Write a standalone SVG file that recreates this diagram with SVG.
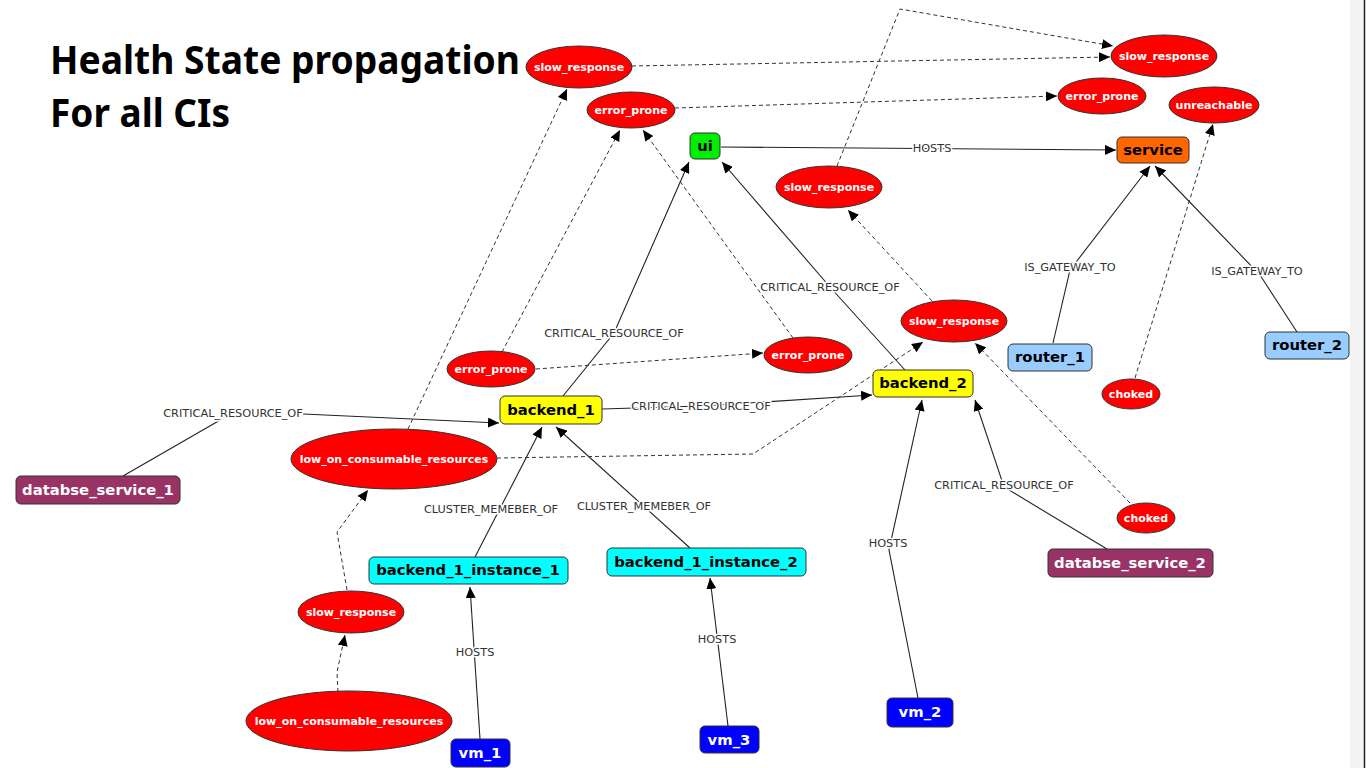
<svg xmlns="http://www.w3.org/2000/svg" width="1366" height="768" viewBox="0 0 1366 768">
<defs>
<marker id="arr" markerUnits="userSpaceOnUse" markerWidth="12" markerHeight="10" refX="11" refY="5" orient="auto">
<path d="M0,0 L11,5 L0,10 Z" fill="#000"/>
</marker>
<style>
.title{font-family:"Noto Sans","Open Sans",sans-serif;font-weight:bold;font-size:39px;fill:#000}
.box{stroke:#333;stroke-width:1}
.ell{fill:#ff0000;stroke:#333;stroke-width:1}
.nt{font-family:"DejaVu Sans",Verdana,sans-serif;font-weight:bold;font-size:14.8px;text-anchor:middle}
.et{font-family:"DejaVu Sans",Verdana,sans-serif;font-weight:bold;font-size:11px;text-anchor:middle;fill:#fff}
.lbl{font-family:"DejaVu Sans",Verdana,sans-serif;font-size:11.3px;text-anchor:middle;fill:#333;stroke:#fff;stroke-width:3;paint-order:stroke;stroke-linejoin:round}
.solid{fill:none;stroke:#222;stroke-width:1.1}
.dash{fill:none;stroke:#333;stroke-width:1;stroke-dasharray:4 3}
</style>
</defs>
<rect width="1366" height="768" fill="#fff"/>
<rect x="1350" y="0" width="14" height="768" fill="#f4f4f4"/>
<line x1="1364.5" y1="0" x2="1364.5" y2="768" stroke="#222" stroke-width="1.5"/>

<g id="title">
<text class="title" x="50" y="74" textLength="470" lengthAdjust="spacingAndGlyphs">Health State propagation</text>
<text class="title" x="50" y="127" textLength="180" lengthAdjust="spacingAndGlyphs">For all CIs</text>
</g>

<g id="connectors">
<path class="solid" d="M721,147 L1116,150" marker-end="url(#arr)"/>
<path class="solid" d="M563,396 L614,333 L689,162" marker-end="url(#arr)"/>
<path class="solid" d="M905,370 L830,287 L722,162" marker-end="url(#arr)"/>
<path class="solid" d="M602,409 L701,406 L872,395" marker-end="url(#arr)"/>
<path class="solid" d="M123,476 L222,419"/>
<path class="solid" d="M303,414 L499,423" marker-end="url(#arr)"/>
<path class="solid" d="M475,557 L542,427" marker-end="url(#arr)"/>
<path class="solid" d="M690,548 L556,427" marker-end="url(#arr)"/>
<path class="solid" d="M480,739 L470,587" marker-end="url(#arr)"/>
<path class="solid" d="M728,726 L710,578" marker-end="url(#arr)"/>
<path class="solid" d="M918,698 L889,550 L922,400" marker-end="url(#arr)"/>
<path class="solid" d="M1107,549 L1004,487 L975,400" marker-end="url(#arr)"/>
<path class="solid" d="M1053,343 L1070,270 L1150,166" marker-end="url(#arr)"/>
<path class="solid" d="M1297,332 L1260,275 L1155,166" marker-end="url(#arr)"/>

<path class="dash" d="M632,66 L1110,57" marker-end="url(#arr)"/>
<path class="dash" d="M675,108 L1057,96" marker-end="url(#arr)"/>
<path class="dash" d="M837,166 L900,9 L1113,46" marker-end="url(#arr)"/>
<path class="dash" d="M932,301 L848,210" marker-end="url(#arr)"/>
<path class="dash" d="M793,338 L643,130" marker-end="url(#arr)"/>
<path class="dash" d="M502,352 L620,130" marker-end="url(#arr)"/>
<path class="dash" d="M536,369 L763,353" marker-end="url(#arr)"/>
<path class="dash" d="M408,429 L567,89" marker-end="url(#arr)"/>
<path class="dash" d="M497,458 L753,454 L923,342" marker-end="url(#arr)"/>
<path class="dash" d="M347,590 L337,532 L368,490" marker-end="url(#arr)"/>
<path class="dash" d="M338,692 L337,672 L345,635" marker-end="url(#arr)"/>
<path class="dash" d="M1130,503 L975,343" marker-end="url(#arr)"/>
<path class="dash" d="M1135,378 L1213,124" marker-end="url(#arr)"/>

<text class="lbl" x="932" y="152">HOSTS</text>
<text class="lbl" x="614" y="337">CRITICAL_RESOURCE_OF</text>
<text class="lbl" x="830" y="291">CRITICAL_RESOURCE_OF</text>
<text class="lbl" x="701" y="410">CRITICAL_RESOURCE_OF</text>
<text class="lbl" x="233" y="417">CRITICAL_RESOURCE_OF</text>
<text class="lbl" x="491" y="513">CLUSTER_MEMEBER_OF</text>
<text class="lbl" x="644" y="510">CLUSTER_MEMEBER_OF</text>
<text class="lbl" x="475" y="656">HOSTS</text>
<text class="lbl" x="717" y="643">HOSTS</text>
<text class="lbl" x="888" y="547">HOSTS</text>
<text class="lbl" x="1004" y="489">CRITICAL_RESOURCE_OF</text>
<text class="lbl" x="1070" y="271">IS_GATEWAY_TO</text>
<text class="lbl" x="1257" y="275">IS_GATEWAY_TO</text>
</g>

<g id="ui"><rect class="box" x="690" y="133" width="30" height="26" rx="5" fill="#00ee00"/><text class="nt" x="705" y="151" fill="#000">ui</text></g>
<g id="service"><rect class="box" x="1117" y="137" width="72" height="26" rx="5" fill="#ff6600"/><text class="nt" x="1153" y="155" fill="#000">service</text></g>
<g id="backend_1"><rect class="box" x="500" y="396" width="102" height="28" rx="5" fill="#ffff00"/><text class="nt" x="551" y="415" fill="#000">backend_1</text></g>
<g id="backend_2"><rect class="box" x="873" y="370" width="100" height="27" rx="5" fill="#ffff00"/><text class="nt" x="923" y="388" fill="#000">backend_2</text></g>
<g id="router_1"><rect class="box" x="1008" y="344" width="84" height="27" rx="5" fill="#99ccff"/><text class="nt" x="1050" y="362" fill="#000">router_1</text></g>
<g id="router_2"><rect class="box" x="1265" y="332" width="84" height="27" rx="5" fill="#99ccff"/><text class="nt" x="1307" y="350" fill="#000">router_2</text></g>
<g id="databse_service_1"><rect class="box" x="16" y="476" width="164" height="28" rx="5" fill="#993366"/><text class="nt" x="98" y="495" fill="#fff">databse_service_1</text></g>
<g id="databse_service_2"><rect class="box" x="1048" y="549" width="165" height="28" rx="5" fill="#993366"/><text class="nt" x="1130" y="568" fill="#fff">databse_service_2</text></g>
<g id="backend_1_instance_1"><rect class="box" x="369" y="557" width="199" height="27" rx="5" fill="#00ffff"/><text class="nt" x="468" y="575" fill="#000">backend_1_instance_1</text></g>
<g id="backend_1_instance_2"><rect class="box" x="607" y="548" width="199" height="28" rx="5" fill="#00ffff"/><text class="nt" x="706" y="567" fill="#000">backend_1_instance_2</text></g>
<g id="vm_1"><rect class="box" x="451" y="739" width="59" height="28" rx="5" fill="#0000ff"/><text class="nt" x="480" y="758" fill="#fff">vm_1</text></g>
<g id="vm_3"><rect class="box" x="700" y="726" width="59" height="27" rx="5" fill="#0000ff"/><text class="nt" x="729" y="745" fill="#fff">vm_3</text></g>
<g id="vm_2"><rect class="box" x="887" y="698" width="66" height="29" rx="5" fill="#0000ff"/><text class="nt" x="920" y="717" fill="#fff">vm_2</text></g>

<g id="slow_response_1"><ellipse class="ell" cx="579" cy="67" rx="53" ry="21"/><text class="et" x="579" y="71">slow_response</text></g>
<g id="error_prone_1"><ellipse class="ell" cx="631" cy="110" rx="44" ry="18"/><text class="et" x="631" y="114">error_prone</text></g>
<g id="slow_response_2"><ellipse class="ell" cx="829" cy="187" rx="53" ry="21"/><text class="et" x="829" y="191">slow_response</text></g>
<g id="slow_response_3"><ellipse class="ell" cx="1164" cy="56" rx="53" ry="21"/><text class="et" x="1164" y="60">slow_response</text></g>
<g id="error_prone_2"><ellipse class="ell" cx="1102" cy="96" rx="44" ry="18"/><text class="et" x="1102" y="100">error_prone</text></g>
<g id="unreachable"><ellipse class="ell" cx="1214" cy="105" rx="45" ry="18"/><text class="et" x="1214" y="109">unreachable</text></g>
<g id="slow_response_4"><ellipse class="ell" cx="954" cy="321" rx="53" ry="21"/><text class="et" x="954" y="325">slow_response</text></g>
<g id="error_prone_3"><ellipse class="ell" cx="491" cy="369" rx="44" ry="18"/><text class="et" x="491" y="373">error_prone</text></g>
<g id="error_prone_4"><ellipse class="ell" cx="808" cy="355" rx="44" ry="18"/><text class="et" x="808" y="359">error_prone</text></g>
<g id="choked_1"><ellipse class="ell" cx="1131" cy="394" rx="29" ry="15"/><text class="et" x="1131" y="398">choked</text></g>
<g id="choked_2"><ellipse class="ell" cx="1146" cy="518" rx="29" ry="15"/><text class="et" x="1146" y="522">choked</text></g>
<g id="low_on_consumable_resources_1"><ellipse class="ell" cx="394" cy="459" rx="103" ry="30"/><text class="et" x="394" y="463">low_on_consumable_resources</text></g>
<g id="slow_response_5"><ellipse class="ell" cx="351" cy="612" rx="53" ry="21"/><text class="et" x="351" y="616">slow_response</text></g>
<g id="low_on_consumable_resources_2"><ellipse class="ell" cx="349" cy="721" rx="103" ry="30"/><text class="et" x="349" y="725">low_on_consumable_resources</text></g>
</svg>
